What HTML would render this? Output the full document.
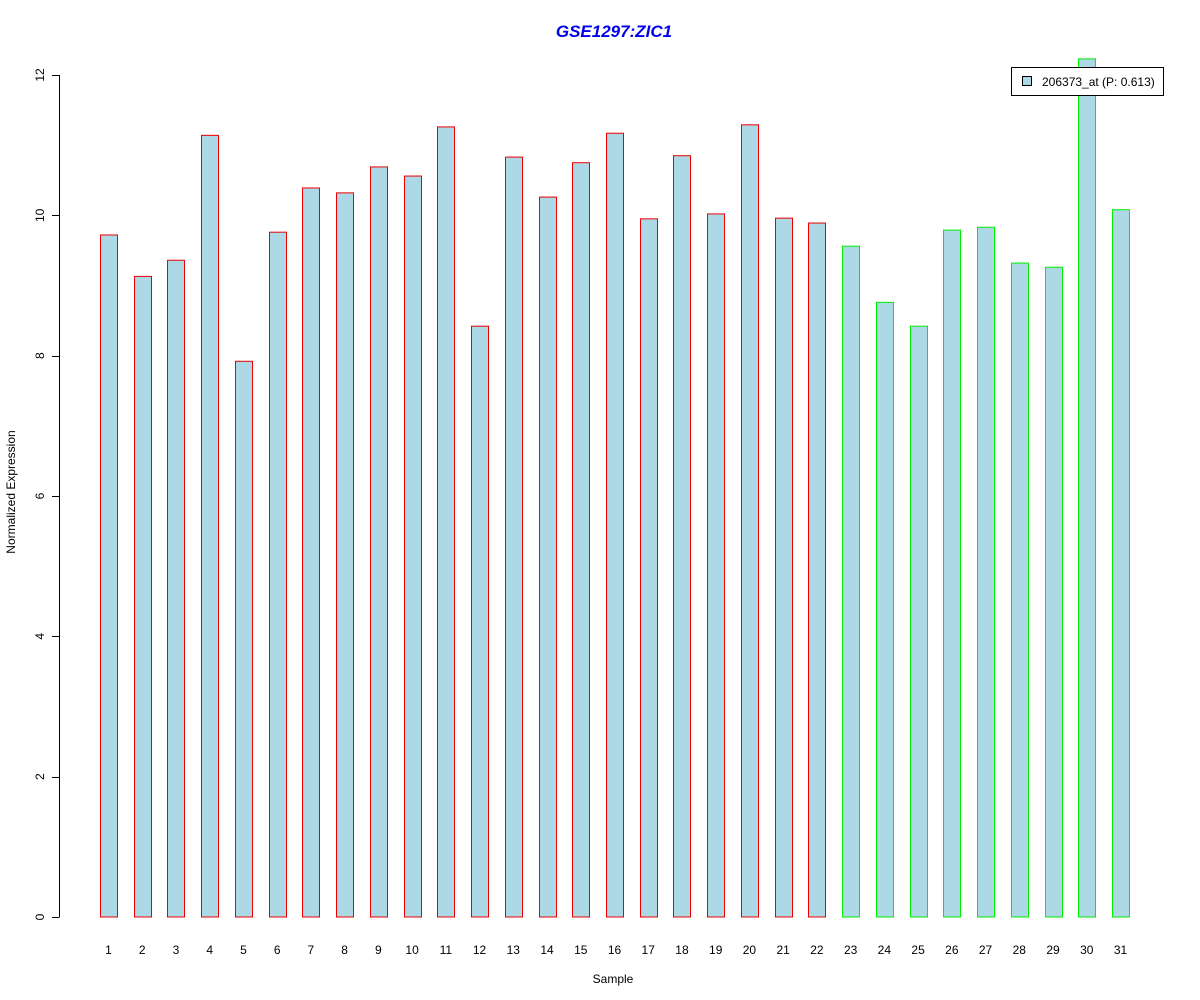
<!DOCTYPE html>
<html><head><meta charset="utf-8"><style>body{margin:0;background:#fff}svg{display:block}text{font-family:"Liberation Sans",Arial,sans-serif}</style></head>
<body>
<svg id="chart" width="1200" height="1000" xmlns="http://www.w3.org/2000/svg">
<text x="614" y="37" text-anchor="middle" font-size="17" font-weight="bold" font-style="italic" fill="#0000ee">GSE1297:ZIC1</text>
<text x="613" y="983" text-anchor="middle" font-size="12">Sample</text>
<text transform="translate(15,492) rotate(-90)" text-anchor="middle" font-size="12">Normalized Expression</text>
<g id="yaxis"></g>
<g id="bars"></g>
<g id="xlabels"></g>
<g>
<rect x="1011.5" y="67.5" width="152" height="28" fill="#fff" stroke="#000"/>
<rect x="1022.5" y="76.5" width="9" height="9" fill="#add8e6" stroke="#000"/>
<text x="1042" y="86" font-size="12">206373_at (P: 0.613)</text>
</g>
</svg>
<script>
const categories=["1","2","3","4","5","6","7","8","9","10","11","12","13","14","15","16","17","18","19","20","21","22","23","24","25","26","27","28","29","30","31"];
const values=[9.72,9.13,9.36,11.14,7.92,9.76,10.39,10.32,10.69,10.56,11.26,8.42,10.83,10.26,10.75,11.17,9.95,10.85,10.02,11.29,9.96,9.89,9.56,8.76,8.42,9.79,9.83,9.32,9.26,12.23,10.08];
const groups=["a","a","a","a","a","a","a","a","a","a","a","a","a","a","a","a","a","a","a","a","a","a","b","b","b","b","b","b","b","b","b"];
const yTicks=[0,2,4,6,8,10,12];
const NS="http://www.w3.org/2000/svg";
const y=v=>917-v*(842/12);
const x=i=>108.5+i*(1012/30);
function mk(t,a,p){const e=document.createElementNS(NS,t);for(const k in a)e.setAttribute(k,a[k]);p.appendChild(e);return e;}
const ya=document.getElementById('yaxis');
const ax=mk('line',{x1:59.5,x2:59.5,y1:y(0),y2:y(12),stroke:'#000'},ya);


yTicks.forEach(t=>{
 const l=mk('line',{x1:52,x2:59.5,y1:Math.round(y(t))+0.5,y2:Math.round(y(t))+0.5,stroke:'#000'},ya);
 
 
 const tx=mk('text',{transform:`translate(44,${y(t)}) rotate(-90)`,'text-anchor':'middle','font-size':12},ya);
 
 
 tx.textContent=t;
});
const bg=document.getElementById('bars'),xl=document.getElementById('xlabels');
values.forEach((v,i)=>{
 const cx=x(i);
 const r=mk('rect',{x:Math.round(cx-8.5)+0.5,y:y(v),width:17,height:y(0)-y(v),fill:'#add8e6',stroke:groups[i]==="a"?'#ee0000':'#00ee00'},bg);
 
 
 const t=mk('text',{x:cx,y:954,'text-anchor':'middle','font-size':12},xl);
 
 
 t.textContent=categories[i];
});
</script>
</body></html>
